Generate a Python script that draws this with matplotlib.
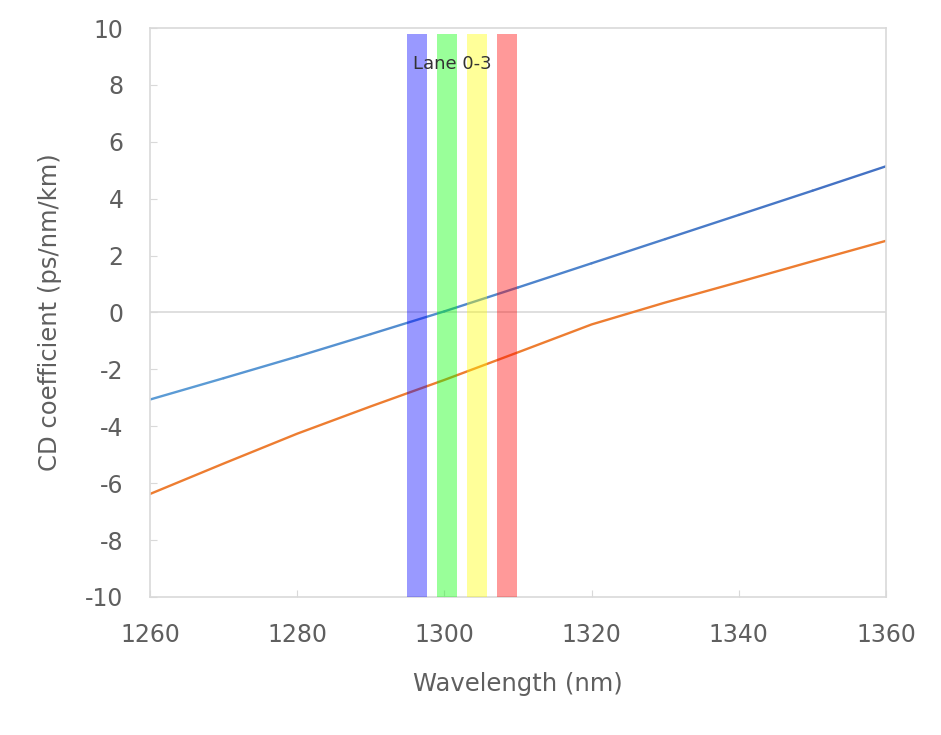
import numpy as np
import matplotlib.pyplot as plt
from matplotlib.collections import LineCollection
from matplotlib.colors import to_rgb

plt.rcParams['font.family'] = ['DejaVu Sans']
plt.rcParams['axes.unicode_minus'] = False

# 数据
wavelength = [1260, 1270, 1280, 1290, 1300, 1310, 1320, 1330, 1340, 1350, 1360]
cd_blue = [-3.06, -2.31, -1.55, -0.76, 0.04, 0.88, 1.73, 2.58, 3.43, 4.28, 5.14]
cd_orange = [-6.38, -5.31, -4.26, -3.30, -2.37, -1.40, -0.42, 0.35, 1.07, 1.80, 2.52]

# LAN-WDM 通道 (起止波长)
lane_start = [1294.9, 1299.0, 1303.1, 1307.1]
lane_end = [1297.6, 1301.7, 1305.8, 1309.9]
lane_colors = ['#0000ff', '#00ff00', '#ffff00', '#ff0000']
lane_label = 'Lane 0-3'

grey = '#5f5f5f'
frame = '#d9d9d9'

fig = plt.figure(figsize=(9.41, 7.35), dpi=100)
ax = fig.add_axes([0.1594, 0.1878, 0.7822, 0.7741])

# 蓝线：左浅右深的渐变
pts = np.column_stack([wavelength, cd_blue])
segs = np.stack([pts[:-1], pts[1:]], axis=1)
c0, c1 = np.array(to_rgb('#5b9bd5')), np.array(to_rgb('#4472c4'))
t = np.linspace(0, 1, len(segs))
seg_colors = [c0 + (c1 - c0) * v for v in t]
ax.add_collection(LineCollection(segs, colors=seg_colors, linewidths=1.7,
                                 capstyle='round', zorder=2))

# 橙线
ax.plot(wavelength, cd_orange, color='#ed7d31', linewidth=1.7, zorder=2)

# 零线
ax.axhline(0, color=frame, linewidth=1.2, zorder=1)

# 通道色带（半透明覆盖在曲线上）
for s, e, c in zip(lane_start, lane_end, lane_colors):
    ax.fill_between([s, e], -10, 9.8, color=c, alpha=0.4, linewidth=0, zorder=3)

ax.text(1301.1, 8.75, lane_label, ha='center', va='center',
        fontsize=13, color='#333333', zorder=4)

ax.set_xlim(1260, 1360)
ax.set_ylim(-10, 10)
ax.set_xticks(range(1260, 1361, 20))
ax.set_yticks(range(-10, 11, 2))

for sp in ax.spines.values():
    sp.set_color(frame)
    sp.set_linewidth(1.2)

ax.tick_params(axis='both', direction='in', length=5, color=frame,
               labelcolor=grey, labelsize=17)
ax.tick_params(axis='x', pad=19)
ax.tick_params(axis='y', pad=19)

ax.set_xlabel('Wavelength (nm)', fontsize=17.5, color=grey, labelpad=18)
ax.set_ylabel('CD coefficient (ps/nm/km)', fontsize=17.5, color=grey, labelpad=16.5)

plt.savefig('out.png', dpi=100)
